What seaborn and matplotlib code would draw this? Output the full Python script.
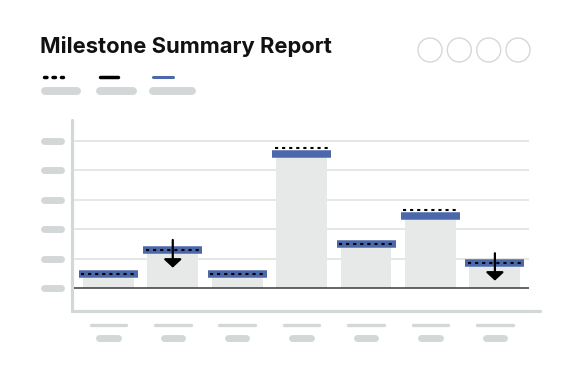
import numpy as np
import pandas as pd
import matplotlib
matplotlib.use("Agg")
import matplotlib.pyplot as plt
from matplotlib.lines import Line2D
from matplotlib.patches import Circle
import seaborn as sns

# ---- data ----
categories = ["M1", "M2", "M3", "M4", "M5", "M6", "M7"]
actual = [0.48, 1.30, 0.48, 4.57, 1.52, 2.46, 0.86]      # grey bars
forecast = [0.48, 1.30, 0.48, 4.57, 1.52, 2.46, 0.86]    # blue bands
target = [0.48, 1.30, 0.48, 4.75, 1.52, 2.66, 0.86]      # dotted lines
arrow_start = [np.nan, 1.64, np.nan, np.nan, np.nan, np.nan, 1.19]
arrow_end = [np.nan, 0.70, np.nan, np.nan, np.nan, np.nan, 0.26]
y_ticks = [0, 1, 2, 3, 4, 5]

sns.set_theme(style="white")
plt.rcParams["font.family"] = ["Inter", "DejaVu Sans"]

W, H, DPI = 576, 374, 100
fig = plt.figure(figsize=(W / DPI, H / DPI), dpi=DPI)
fig.patch.set_facecolor("white")

ax_l, ax_r, ax_t, ax_b = 72, 540, 120, 311
ax = fig.add_axes([ax_l / W, (H - ax_b) / H, (ax_r - ax_l) / W, (ax_b - ax_t) / H])

df = pd.DataFrame({"cat": categories, "actual": actual})
sns.barplot(data=df, x="cat", y="actual", color="#e7e9e9", saturation=1,
            width=0.79, ax=ax, zorder=2, edgecolor="none")

ax.set_xlim(-0.564, 6.70)
ax.set_ylim(-0.77, 5.71)

GRID = "#e0e2e2"
PILL = "#d3d7d7"
BLUE = "#4b68ab"

# grid lines and baseline
ax.hlines(y_ticks[1:], -0.53, 6.53, color=GRID, lw=1.2, zorder=1)
ax.hlines([0], -0.53, 6.53, color="#3a3a3a", lw=1.1, zorder=5)

xs = np.arange(len(categories))
# blue bands
ax.hlines(forecast, xs - 0.458, xs + 0.458, color=BLUE, lw=5.4, zorder=3)
# dotted targets
ax.hlines(target, xs - 0.42, xs + 0.42, color="black", lw=1.5,
          linestyles=[(0, (1.5, 1.9))], zorder=4)
# arrows
for x, s, e in zip(xs, arrow_start, arrow_end):
    if np.isnan(s):
        continue
    ax.annotate("", xy=(x, e), xytext=(x, s),
                arrowprops=dict(arrowstyle="-|>,head_width=0.54,head_length=0.5",
                                mutation_scale=10, lw=1.6, color="black",
                                shrinkA=0, shrinkB=0), zorder=6)

# y tick placeholders
for yv in y_ticks:
    ax.plot([-1.006, -0.742], [yv, yv], color=PILL, lw=5.0,
            solid_capstyle="round", clip_on=False)

# x tick placeholders
for x in xs:
    ax.plot([x - 0.2755, x + 0.2755], [-1.246, -1.246], color=PILL, lw=2.4,
            solid_capstyle="round", clip_on=False)
    ax.plot([x - 0.143, x + 0.143], [-1.670, -1.670], color=PILL, lw=5.0,
            solid_capstyle="round", clip_on=False)

ax.set_xticks([])
ax.set_yticks([])
ax.set_xlabel("")
ax.set_ylabel("")
for side in ["top", "right"]:
    ax.spines[side].set_visible(False)
for side in ["left", "bottom"]:
    sp = ax.spines[side]
    sp.set_color(PILL)
    sp.set_linewidth(2.3)
    sp.set_capstyle("round")

# ---- header ----
fig.text(40 / W, (H - 53.3) / H, "Milestone Summary Report", fontsize=15.8,
         fontweight="bold", color="#111111", va="baseline", ha="left")

tr = fig.dpi_scale_trans
def px(x, y):
    return x / DPI, (H - y) / DPI

def fig_line(x0, x1, y, **kw):
    a, b = px(x0, y)
    c, d = px(x1, y)
    fig.add_artist(Line2D([a, c], [b, d], transform=tr, **kw))

# legend markers
fig_line(43.5, 62.5, 77.3, color="black", lw=2.5, linestyle=(0, (0.72, 1.72)),
         dash_capstyle="round")
fig_line(100, 118.3, 77.3, color="black", lw=2.5, solid_capstyle="round")
fig_line(153, 172.7, 77.3, color=BLUE, lw=2.2, solid_capstyle="round")
for x0, x1 in [(44.7, 76.7), (100, 132.7), (153.3, 192)]:
    fig_line(x0, x1, 90.7, color=PILL, lw=5.7, solid_capstyle="round")

# circles top right
for cx in [430, 459.3, 488.7, 518]:
    c = Circle(px(cx, 50), 12 / DPI, transform=tr, fill=False,
               edgecolor="#d5d8d8", lw=1.0)
    fig.add_artist(c)

fig.savefig("out.png", dpi=DPI, facecolor="white")
